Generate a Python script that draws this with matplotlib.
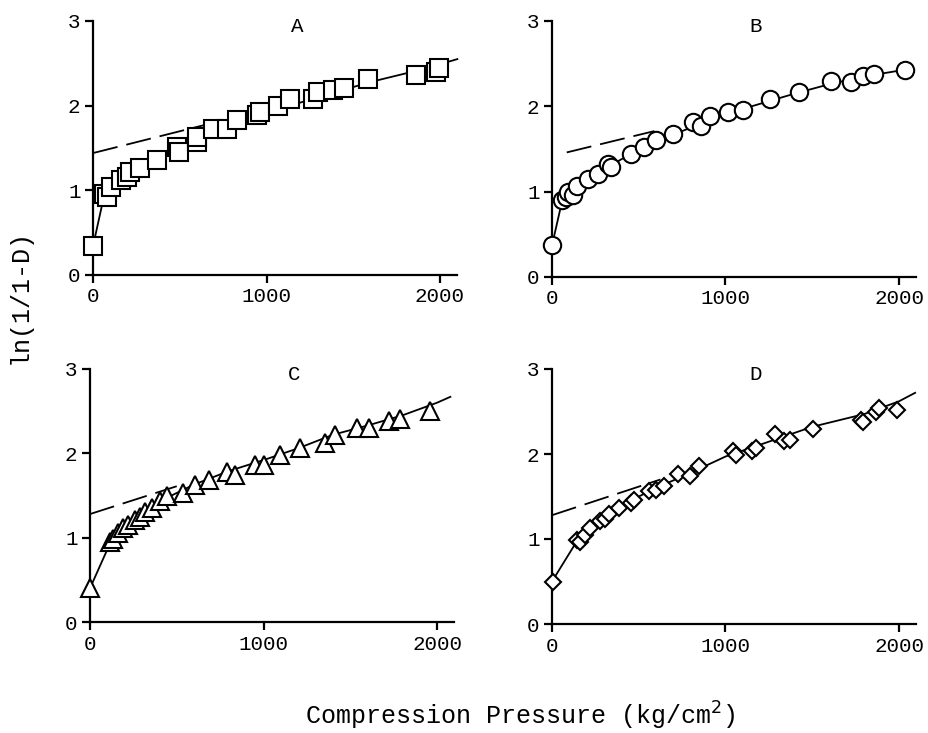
import numpy as np
import matplotlib
matplotlib.use("Agg")
import matplotlib.pyplot as plt

plt.rcParams['font.family'] = ['Liberation Mono', 'DejaVu Sans Mono']

# -----------------------------
# Data
# -----------------------------

# Panel A (squares)
a_x = [0, 63, 82, 101, 159, 197, 216, 273, 369, 484, 493, 598, 598, 694, 771, 828,
       943, 962, 1067, 1134, 1268, 1296, 1382, 1449, 1583, 1860, 1975, 1994]
a_y = [0.34, 0.96, 0.92, 1.04, 1.12, 1.16, 1.22, 1.26, 1.36, 1.51, 1.45, 1.57, 1.63,
       1.73, 1.73, 1.83, 1.89, 1.93, 2.00, 2.08, 2.08, 2.16, 2.19, 2.21, 2.31, 2.36,
       2.40, 2.44]
a_fit_x = [0, 60, 100, 150, 200, 300, 400, 500, 600, 700, 800, 1000, 1200, 1400, 1600,
           1800, 2000, 2100]
a_fit_y = [0.34, 0.90, 1.00, 1.08, 1.15, 1.30, 1.41, 1.50, 1.59, 1.68, 1.76, 1.90, 2.04,
           2.16, 2.28, 2.38, 2.49, 2.55]
a_dash_x = [0, 640]
a_dash_y = [1.44, 1.77]

# Panel B (circles)
b_x = [0, 57, 80, 95, 123, 142, 208, 265, 322, 341, 455, 530, 597, 697, 814, 856,
       913, 1013, 1102, 1254, 1424, 1610, 1723, 1790, 1856, 2036]
b_y = [0.37, 0.90, 0.94, 1.00, 0.96, 1.07, 1.15, 1.21, 1.33, 1.29, 1.44, 1.52, 1.60,
       1.68, 1.82, 1.77, 1.89, 1.93, 1.96, 2.09, 2.17, 2.30, 2.29, 2.35, 2.38, 2.43]
b_fit_x = [0, 57, 100, 150, 200, 300, 400, 500, 600, 700, 800, 900, 1000, 1200, 1400,
           1600, 1800, 2036]
b_fit_y = [0.37, 0.88, 0.97, 1.05, 1.13, 1.26, 1.38, 1.48, 1.58, 1.67, 1.75, 1.83, 1.91,
           2.03, 2.15, 2.26, 2.35, 2.43]
b_dash_x = [85, 590]
b_dash_y = [1.46, 1.71]

# Panel C (triangles)
c_x = [0, 115, 135, 163, 192, 221, 260, 288, 317, 356, 404, 442, 538, 606, 683, 788,
       837, 952, 1000, 1096, 1212, 1356, 1413, 1538, 1606, 1721, 1788, 1962]
c_y = [0.40, 0.95, 0.99, 1.05, 1.11, 1.15, 1.21, 1.25, 1.31, 1.35, 1.43, 1.49, 1.53,
       1.62, 1.68, 1.78, 1.74, 1.86, 1.86, 1.98, 2.06, 2.12, 2.22, 2.30, 2.30, 2.38,
       2.41, 2.50]
c_fit_x = [0, 115, 200, 300, 400, 600, 800, 1000, 1200, 1400, 1600, 1800, 2000, 2077]
c_fit_y = [0.40, 0.93, 1.14, 1.31, 1.43, 1.63, 1.79, 1.92, 2.06, 2.22, 2.33, 2.45, 2.60,
           2.67]
c_dash_x = [0, 500]
c_dash_y = [1.28, 1.61]

# Panel D (diamonds)
d_x = [5, 142, 161, 189, 218, 275, 303, 331, 388, 455, 473, 559, 597, 644, 729, 795,
       848, 1042, 1061, 1155, 1174, 1288, 1335, 1373, 1506, 1780, 1790, 1866, 1884, 1989]
d_y = [0.50, 0.99, 0.97, 1.05, 1.13, 1.21, 1.24, 1.30, 1.36, 1.42, 1.46, 1.56, 1.58,
       1.62, 1.76, 1.74, 1.86, 2.03, 1.99, 2.03, 2.07, 2.23, 2.15, 2.17, 2.30, 2.40,
       2.38, 2.50, 2.54, 2.52]
d_fit_x = [0, 142, 200, 300, 400, 500, 600, 700, 800, 1000, 1200, 1500, 1800, 2000, 2093]
d_fit_y = [0.50, 0.97, 1.12, 1.27, 1.40, 1.50, 1.60, 1.69, 1.78, 1.97, 2.11, 2.32, 2.47,
           2.62, 2.72]
d_dash_x = [0, 625]
d_dash_y = [1.28, 1.70]

panels = [
    ("A", a_x, a_y, a_fit_x, a_fit_y, a_dash_x, a_dash_y, "s", 12.5),
    ("B", b_x, b_y, b_fit_x, b_fit_y, b_dash_x, b_dash_y, "o", 12.5),
    ("C", c_x, c_y, c_fit_x, c_fit_y, c_dash_x, c_dash_y, "^", 13.5),
    ("D", d_x, d_y, d_fit_x, d_fit_y, d_dash_x, d_dash_y, "D", 8.5),
]

# axes positions in pixels: left, y0 pixel, y3 pixel
W, H = 929, 733
boxes = [(93, 275, 21), (552, 277, 21), (90, 622, 369), (552, 624, 369)]
px_per_1000 = 173.5

fig = plt.figure(figsize=(W / 100, H / 100), dpi=100)

for (lab, x, y, fx, fy, dx, dy, mk, ms), (left, ybot, ytop) in zip(panels, boxes):
    width = 2.1 * px_per_1000
    ax = fig.add_axes([left / W, 1 - ybot / H, width / W, (ybot - ytop) / H])
    ax.plot(fx, fy, color="black", lw=1.3, zorder=2, clip_on=False)
    ax.plot(dx, dy, color="black", lw=1.3, ls=(0, (14, 5)), zorder=2, clip_on=False)
    ax.plot(x, y, ls="none", marker=mk, ms=ms, mfc="white", mec="black", mew=1.5,
            zorder=3, clip_on=False)
    ax.set_xlim(0, 2100)
    ax.set_ylim(0, 3)
    ax.set_xticks([0, 1000, 2000])
    ax.set_yticks([0, 1, 2, 3])
    for s in ["top", "right"]:
        ax.spines[s].set_visible(False)
    for s in ["left", "bottom"]:
        ax.spines[s].set_linewidth(1.6)
    ax.tick_params(direction="out", length=6, width=1.6, labelsize=15, pad=3)
    ax.text(0.56, 0.98, lab, transform=ax.transAxes, ha="center", va="center",
            fontsize=15)

fig.text(20 / W, 1 - 297 / H, "ln(1/1-D)", rotation=90, ha="center", va="center",
         fontsize=18)
fig.text(520 / W, 1 - 716 / H, "Compression Pressure (kg/cm$^{2}$)", ha="center",
         va="center", fontsize=18)

plt.savefig("out.png", dpi=100)
